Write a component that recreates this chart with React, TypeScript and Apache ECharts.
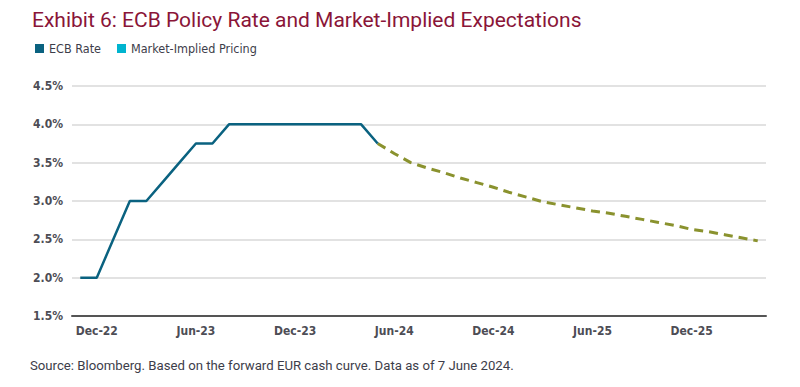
import React, { useEffect, useRef } from "react";
import * as echarts from "echarts";

const months: string[] = [
  "Nov-22", "Dec-22",
  "Jan-23", "Feb-23", "Mar-23", "Apr-23", "May-23", "Jun-23", "Jul-23", "Aug-23", "Sep-23", "Oct-23", "Nov-23", "Dec-23",
  "Jan-24", "Feb-24", "Mar-24", "Apr-24", "May-24", "Jun-24", "Jul-24", "Aug-24", "Sep-24", "Oct-24", "Nov-24", "Dec-24",
  "Jan-25", "Feb-25", "Mar-25", "Apr-25", "May-25", "Jun-25", "Jul-25", "Aug-25", "Sep-25", "Oct-25", "Nov-25", "Dec-25",
  "Jan-26", "Feb-26", "Mar-26", "Apr-26",
];

// ECB deposit rate, Nov-22 .. May-24
const ecbRate: number[] = [
  2.0, 2.0, 2.5, 3.0, 3.0, 3.25, 3.5, 3.75, 3.75, 4.0, 4.0, 4.0, 4.0, 4.0,
  4.0, 4.0, 4.0, 4.0, 3.75,
];

// Market-implied path, May-24 .. Apr-26
const marketImplied: number[] = [
  3.75, 3.62, 3.5, 3.43, 3.37, 3.3, 3.24, 3.18,
  3.11, 3.05, 2.99, 2.95, 2.91, 2.87, 2.84, 2.8, 2.76, 2.72, 2.68, 2.63,
  2.6, 2.56, 2.52, 2.48,
];

const yTicks: number[] = [1.5, 2.0, 2.5, 3.0, 3.5, 4.0, 4.5];
const shownLabels: string[] = ["Dec-22", "Jun-23", "Dec-23", "Jun-24", "Dec-24", "Jun-25", "Dec-25"];

const FONT = "'Liberation Sans Narrow', 'DejaVu Sans Condensed', Roboto, sans-serif";

export default function App() {
  const ref = useRef<HTMLDivElement>(null);
  useEffect(() => {
    if (!ref.current) return;
    const chart = echarts.init(ref.current, undefined, { renderer: "svg" });
    const ecbSeries = months.map((_, i) => (i < ecbRate.length ? ecbRate[i] : null));
    const startIdx = ecbRate.length - 1;
    const mktSeries = months.map((_, i) =>
      i >= startIdx && i - startIdx < marketImplied.length ? marketImplied[i - startIdx] : null
    );
    chart.setOption({
      animation: false,
      backgroundColor: "#ffffff",
      title: {
        text: "Exhibit 6: ECB Policy Rate and Market-Implied Expectations",
        left: 27,
        top: 4,
        textStyle: { color: "#8a1538", fontSize: 21, fontWeight: "normal", fontFamily: "Roboto, sans-serif" },
      },
      legend: {
        left: 30,
        top: 37,
        icon: "rect",
        itemWidth: 9,
        itemHeight: 9,
        itemGap: 16,
        textStyle: { color: "#3d3d4a", fontSize: 12.5, fontFamily: FONT },
        data: [
          { name: "ECB Rate", itemStyle: { color: "#0a6280" } },
          { name: "Market-Implied Pricing", itemStyle: { color: "#00b4cf" } },
        ],
      },
      grid: { left: 72, right: 34, top: 86, bottom: 71, containLabel: false },
      xAxis: {
        type: "category",
        data: months,
        boundaryGap: true,
        axisLine: { lineStyle: { color: "#555555", width: 2 } },
        axisTick: { show: false },
        axisLabel: {
          interval: (i: number, v: string) => shownLabels.indexOf(v) >= 0,
          color: "#4d4d55",
          fontSize: 12,
          fontWeight: "bold",
          fontFamily: FONT,
          margin: 9,
        },
        splitLine: { show: false },
      },
      yAxis: {
        type: "value",
        min: yTicks[0],
        max: yTicks[yTicks.length - 1],
        interval: 0.5,
        axisLine: { show: false },
        axisTick: { show: false },
        axisLabel: {
          formatter: (v: number) => v.toFixed(1) + "%",
          color: "#4d4d55",
          fontSize: 12,
          fontWeight: "bold",
          fontFamily: FONT,
          margin: 9,
        },
        splitLine: { lineStyle: { color: "#d9d9d9", width: 1.5 } },
      },
      series: [
        {
          name: "ECB Rate",
          type: "line",
          data: ecbSeries,
          showSymbol: false,
          symbol: "none",
          lineStyle: { color: "#0a6280", width: 2.5 },
          itemStyle: { color: "#0a6280" },
          z: 3,
        },
        {
          name: "Market-Implied Pricing",
          type: "line",
          data: mktSeries,
          showSymbol: false,
          symbol: "none",
          lineStyle: { color: "#8a922e", width: 3, type: [9, 6] },
          itemStyle: { color: "#00b4cf" },
          z: 2,
        },
      ],
      graphic: [
        {
          type: "text",
          left: 30,
          top: 359,
          style: {
            text: "Source: Bloomberg. Based on the forward EUR cash curve. Data as of 7 June 2024.",
            fill: "#3d3d4a",
            fontSize: 13.2,
            fontFamily: "Roboto, sans-serif",
          },
        },
      ],
    });
    return () => chart.dispose();
  }, []);
  return <div ref={ref} style={{ width: 800, height: 387, position: "absolute", left: 0, top: 0 }} />;
}
